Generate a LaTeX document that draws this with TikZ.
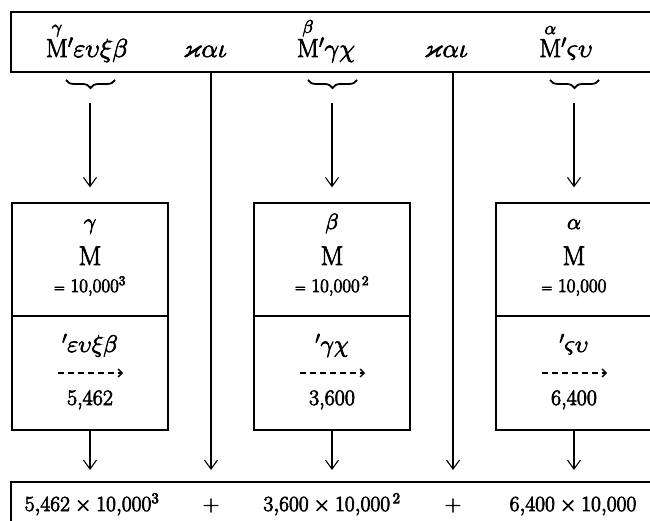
\RequirePackage{fix-cm}
\documentclass[tikz,border=0pt]{standalone}
\usepackage{amsmath,amssymb}
\usetikzlibrary{arrows.meta,decorations.pathreplacing}
\newcommand\fsz[1]{\fontsize{#1}{#1}\selectfont}
\newcommand\heavy[1]{\special{pdf:literal direct q 2 Tr 0.7 w}#1\special{pdf:literal direct Q}}
\begin{document}
\begin{tikzpicture}[x=1pt,y=-1pt,
  frame/.style={line width=1.3pt},
  colbox/.style={draw,line width=1.3pt,minimum width=156pt,inner sep=0pt},
  arr/.style={line width=1.1pt,-{Straight Barb[length=9pt,width=13pt,line width=1.1pt]}},
  dasharr/.style={line width=1.3pt,dash pattern=on 6pt off 4pt,-{Straight Barb[length=4pt,width=8pt,line width=1.3pt]}},
  brc/.style={decorate,decoration={brace,amplitude=8pt,mirror},line width=1.8pt},
  txt/.style={anchor=base,inner sep=0pt}]
\useasboundingbox (0,0) rectangle (650,521);
% top box (open at the right)
\draw[frame] (665,12) -- (11,12) -- (11,72) -- (665,72);
\node[txt] (t1) at (87,57) {\heavy{\fsz{26}$\overset{\gamma}{\mathrm{M}}{}'\varepsilon\upsilon\xi\beta$}};
\node[txt] (k1) at (205,57) {\heavy{\fsz{26}$\varkappa\alpha\iota$}};
\node[txt] (t2) at (326,57) {\heavy{\fsz{26}$\overset{\beta}{\mathrm{M}}{}'\gamma\chi$}};
\node[txt] (k2) at (446,57) {\heavy{\fsz{26}$\varkappa\alpha\iota$}};
\node[txt] (t3) at (566,57) {\heavy{\fsz{26}$\overset{\alpha}{\mathrm{M}}{}'\varsigma\upsilon$}};
% braces
\draw[brc] (66,80) -- (115,80);
\draw[brc] (308,80) -- (357,80);
\draw[brc] (550,80) -- (599,80);
\coordinate (a1) at (90,103);
\coordinate (a2) at (332,103);
\coordinate (a3) at (574,103);
% column boxes
\node[colbox,minimum height=113pt] (u1) at (90,259.5) {};
\node[colbox,minimum height=114pt] (l1) at (90,373) {};
\node[colbox,minimum height=113pt] (u2) at (332,259.5) {};
\node[colbox,minimum height=114pt] (l2) at (332,373) {};
\node[colbox,minimum height=113pt] (u3) at (574,259.5) {};
\node[colbox,minimum height=114pt] (l3) at (574,373) {};
% upper texts
\node[txt] (g1) at (90,229) {\heavy{\fsz{22}$\gamma$}};
\node[txt] (m1) at (90,265) {\heavy{\fsz{27}M}};
\node[txt] (v1) at (90,292) {\heavy{\fsz{19}{\fsz{14}=} 10,000\textsuperscript{3}}};
\node[txt] (g2) at (332,229) {\heavy{\fsz{22}$\beta$}};
\node[txt] (m2) at (332,265) {\heavy{\fsz{27}M}};
\node[txt] (v2) at (332,292) {\heavy{\fsz{19}{\fsz{14}=} 10,000\textsuperscript{\,2}}};
\node[txt] (g3) at (574,229) {\heavy{\fsz{22}$\alpha$}};
\node[txt] (m3) at (574,265) {\heavy{\fsz{27}M}};
\node[txt] (v3) at (574,292) {\heavy{\fsz{19}{\fsz{14}=} 10,000}};
% lower texts
\node[txt] (n1) at (90,352) {\heavy{\fsz{24}${}'\varepsilon\upsilon\xi\beta$}};
\node[txt] (d1) at (90,405) {\heavy{\fsz{22}5,462}};
\node[txt] (n2) at (332,352) {\heavy{\fsz{24}${}'\gamma\chi$}};
\node[txt] (d2) at (332,405) {\heavy{\fsz{22}3,600}};
\node[txt] (n3) at (574,352) {\heavy{\fsz{24}${}'\varsigma\upsilon$}};
\node[txt] (d3) at (574,405) {\heavy{\fsz{22}6,400}};
\coordinate (s1) at (58,373); \coordinate (f1) at (123,373);
\coordinate (s2) at (300,373); \coordinate (f2) at (365,373);
\coordinate (s3) at (542,373); \coordinate (f3) at (607,373);
\draw[dasharr] (s1) -- (f1);
\draw[dasharr] (s2) -- (f2);
\draw[dasharr] (s3) -- (f3);
% bottom box (open at right and bottom)
\draw[frame] (665,482) -- (11,482) -- (11,530);
\node[txt] (b1) at (92,511) {\heavy{\fsz{21.5}$5{,}462\times10{,}000^3$}};
\node[txt] (p1) at (211,511) {\heavy{\fsz{22}$+$}};
\node[txt] (b2) at (332,511) {\heavy{\fsz{21.5}$3{,}600\times10{,}000^{\,2}$}};
\node[txt] (p2) at (453,511) {\heavy{\fsz{22}$+$}};
\node[txt] (b3) at (573,511) {\heavy{\fsz{21.5}$6{,}400\times10{,}000$}};
% connectors
\coordinate (k1s) at (211,72); \coordinate (k1e) at (211,470);
\coordinate (k2s) at (453,72); \coordinate (k2e) at (453,470);
\coordinate (e1) at (90,470);
\coordinate (e2) at (332,470);
\coordinate (e3) at (574,470);
\draw[arr,shorten >=15pt] (a1) -- (u1.north);
\draw[arr,shorten >=15pt] (a2) -- (u2.north);
\draw[arr,shorten >=15pt] (a3) -- (u3.north);
\draw[arr] (l1.south) -- (e1);
\draw[arr] (l2.south) -- (e2);
\draw[arr] (l3.south) -- (e3);
\draw[arr] (k1s) -- (k1e);
\draw[arr] (k2s) -- (k2e);
\end{tikzpicture}
\end{document}
